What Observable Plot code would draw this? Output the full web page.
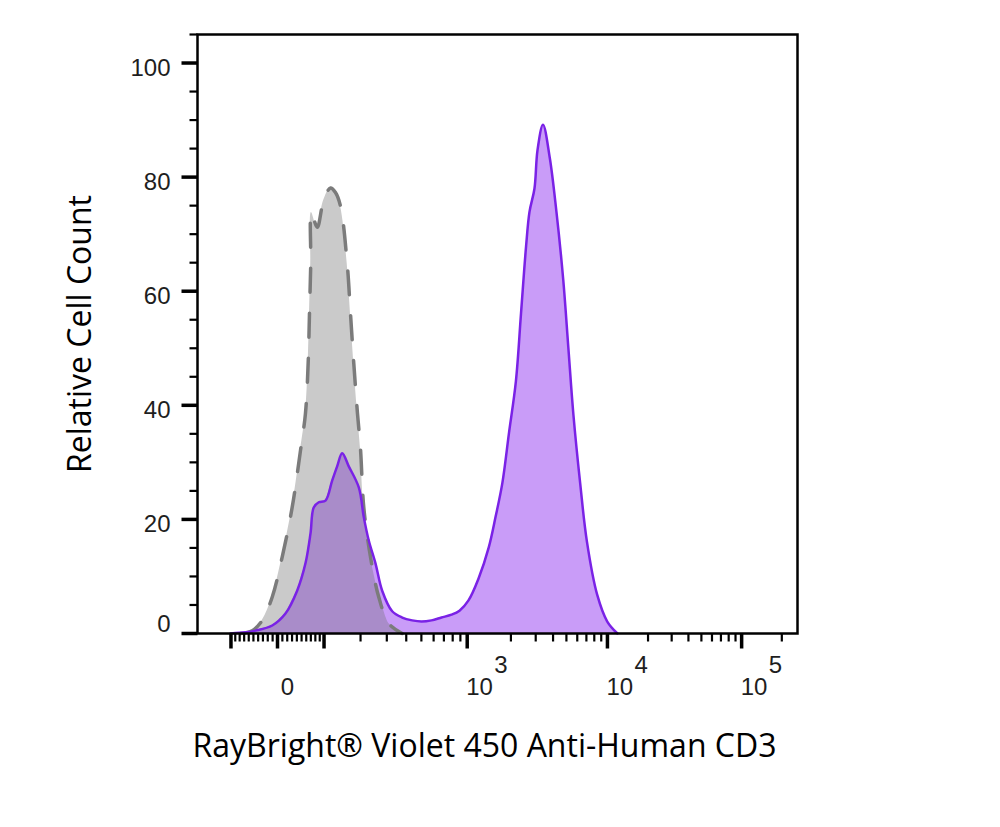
<!DOCTYPE html>
<html><head><meta charset="utf-8">
<script src="https://cdn.jsdelivr.net/npm/d3@7"></script>
<script src="https://cdn.jsdelivr.net/npm/@observablehq/plot@0.6"></script>
<style>body{margin:0;background:#fff}</style>
</head><body><div id="chart"></div>
<script>
// Isotype control (grey, dashed) — fluorescence intensity vs relative count
const isotypeX = [-78, -52.5, -31.5, -10.8, 9.6, 30.2, 47.7, 58.3, 64.1, 67.0, 69.8, 71.3, 84.2, 98.7, 115.6, 128.1, 141.2, 159.5, 169.0, 178.9, 190.2, 199.8, 210.7, 234.2, 265.8, 308.9, 376.8];
const isotypeY = [0, 0.5, 2.3, 6.4, 13.4, 22.1, 32.1, 38.6, 47.3, 56.1, 64.9, 73.8, 71.2, 75.8, 78.1, 77.3, 74.9, 64.9, 56.1, 47.3, 38.6, 32.4, 22.1, 13.4, 6.4, 1.75, 0];
// Anti-Human CD3 stained (purple)
const cd3X = [-101, -67, -45.5, -10.8, 16.4, 40.6, 58.3, 69.2, 76.4, 87.8, 103.5, 119.7, 132.4, 145.7, 164.1, 194.4, 210.7, 228.0, 252.9, 279.9, 325.0, 376.8, 436.6, 500.9, 581.2, 675.1, 785.5, 887.8, 1020, 1192, 1402, 1564, 1743, 1942, 2168, 2357, 2561, 2708, 2940, 3089, 3383, 3786, 4232, 4742, 5165, 5626, 6298, 7063, 8400, 9970, 11860];
const cd3Y = [0, 0.2, 0.5, 1.4, 3.5, 7.5, 12.3, 17.5, 22.1, 23.0, 23.3, 26.8, 29.3, 31.6, 29.3, 25.6, 20.4, 16.3, 12.3, 7.5, 3.9, 2.8, 2.3, 2.1, 2.3, 2.8, 3.3, 4.0, 5.8, 9.6, 15.1, 20.5, 26.4, 35.3, 44.2, 56.1, 67.9, 73.9, 78.0, 84.7, 89.2, 83.4, 73.9, 62.0, 50.1, 38.3, 26.4, 16.1, 6.8, 2.1, 0];

const xMajorTicks = [-100, 0, 100, 1000, 10000, 100000];
const xMinorTicks = [-90, -80, -70, -60, -50, -40, -30, -20, -10, 10, 20, 30, 40, 50, 60, 70, 80, 90,
  200, 300, 400, 500, 600, 700, 800, 900,
  2000, 3000, 4000, 5000, 6000, 7000, 8000, 9000,
  20000, 30000, 40000, 50000, 60000, 70000, 80000, 90000, 200000];
const xDecadeTicks = [1000, 10000, 100000];
const xDecadeBase = ["10", "10", "10"];
const xDecadeExponents = ["3", "4", "5"];
const xZeroLabel = ["0"];
const yMajorTicks = [0, 20, 40, 60, 80, 100];
const yMinorTicks = [5, 10, 15, 25, 30, 35, 45, 50, 55, 65, 70, 75, 85, 90, 95, 105];
const xTitle = "RayBright® Violet 450 Anti-Human CD3";
const yTitle = "Relative Cell Count";

// Logicle (biexponential) display transform, T=262144, M=4.5 decades
function makeLogicle(T, W, M, A) {
  const w = W / (M + A), x2 = A / (M + A), x1 = x2 + w, x0 = x2 + 2 * w, b = (M + A) * Math.LN10;
  let lo = 1e-9, hi = b;
  for (let i = 0; i < 200; i++) {
    const mid = (lo + hi) / 2;
    const f = 2 * (Math.log(mid) - Math.log(b)) + w * (b + mid);
    if (f > 0) hi = mid; else lo = mid;
  }
  const d = (lo + hi) / 2;
  const ca = Math.exp(x0 * (b + d));
  const mfa = Math.exp(b * x1) - ca / Math.exp(d * x1);
  const a = T / ((Math.exp(b) - mfa) - ca / Math.exp(d));
  const c = ca * a, f = -mfa * a;
  const S = y => y >= x1 ? a * Math.exp(b * y) - c * Math.exp(-d * y) + f : -S(2 * x1 - y);
  return x => {
    let l = -0.5, h = 1.5;
    for (let i = 0; i < 100; i++) { const m = (l + h) / 2; if (S(m) < x) l = m; else h = m; }
    return (l + h) / 2;
  };
}
const disp = makeLogicle(262144, 0.6, 4.5, 0);

const gray = isotypeX.map((x, i) => ({u: disp(x), v: isotypeY[i]}));
const cd3 = cd3X.map((x, i) => ({u: disp(x), v: cd3Y[i]}));

function interp(rows, u) {
  const n = rows.length;
  if (u < rows[0].u || u > rows[n - 1].u) return 0;
  if (u === rows[n - 1].u) return rows[n - 1].v;
  const i = d3.bisector(r => r.u).right(rows, u);
  const p = rows[i - 1], q = rows[i];
  return p.v + (q.v - p.v) * (u - p.u) / (q.u - p.u);
}
const us = Array.from(new Set([...gray.map(r => r.u), ...cd3.map(r => r.u)])).sort((a, b) => a - b);
const overlap = [];
for (let k = 0; k < us.length; k++) {
  const u = us[k], g = interp(gray, u), p = interp(cd3, u);
  if (k > 0) {
    const u0 = us[k - 1], g0 = interp(gray, u0), p0 = interp(cd3, u0);
    const e0 = g0 - p0, e1 = g - p;
    if (e0 * e1 < 0) { const t = e0 / (e0 - e1); overlap.push({u: u0 + t * (u - u0), v: g0 + t * (g - g0)}); }
  }
  overlap.push({u, v: Math.min(g, p)});
}

// layout
const W = 1000, H = 827, mL = 197, mR = 203, mT = 34, mB = 194;
const yDomain = [0, 105], xDomain = [0, 1];
const pxPerY = (H - mT - mB) / (yDomain[1] - yDomain[0]);
const pxPerX = (W - mL - mR) / (xDomain[1] - xDomain[0]);
const curve = "catmull-rom";

const tickFont = {fontSize: 24, fontFamily: "Liberation Sans, Arial, sans-serif", fill: "#1e1e1e"};
const titleFont = {fontSize: 32, fontFamily: "Open Sans, sans-serif", fill: "#000"};

const tickLink = (values, len, width, axis) => axis === "x"
  ? Plot.link(values, {x1: d => disp(d), x2: d => disp(d), y1: 0, y2: -len / pxPerY, stroke: "#000", strokeWidth: width})
  : Plot.link(values, {y1: d => d, y2: d => d, x1: 0, x2: -len / pxPerX, stroke: "#000", strokeWidth: width});

const chart = Plot.plot({
  width: W, height: H,
  marginLeft: mL, marginRight: mR, marginTop: mT, marginBottom: mB,
  x: {domain: xDomain, axis: null},
  y: {domain: yDomain, axis: null},
  style: {background: "#fff"},
  marks: [
    Plot.areaY(gray, {x: "u", y: "v", fill: "#cacaca", curve}),
    Plot.areaY(cd3, {x: "u", y: "v", fill: "#c99cf8", curve}),
    Plot.areaY(overlap, {x: "u", y: "v", fill: "#a98cc9", curve}),
    Plot.lineY(gray, {x: "u", y: "v", stroke: "#7b7b7b", strokeWidth: 3.5, strokeDasharray: "24,21", curve}),
    Plot.lineY(cd3, {x: "u", y: "v", stroke: "#7a22e6", strokeWidth: 2.5, curve}),
    tickLink(xMinorTicks, 8, 2.2, "x"),
    tickLink(xMajorTicks, 15, 3.5, "x"),
    tickLink(yMinorTicks, 8, 2.2, "y"),
    tickLink(yMajorTicks, 16, 3.5, "y"),
    Plot.frame({stroke: "#000", strokeWidth: 2.5}),
    Plot.text(yMajorTicks.filter(d => d > 0), {y: d => d, frameAnchor: "left", dx: -27, dy: 5, textAnchor: "end", text: d => String(d), ...tickFont}),
    Plot.text(yMajorTicks.filter(d => d === 0), {y: d => d, frameAnchor: "left", dx: -27, dy: -9, textAnchor: "end", text: d => String(d), ...tickFont}),
    Plot.text(xZeroLabel, {x: () => disp(0), frameAnchor: "bottom", dy: 61, dx: 10, textAnchor: "middle", text: d => d, ...tickFont}),
    Plot.text(xDecadeTicks, {x: d => disp(d), frameAnchor: "bottom", dy: 61, dx: -1, textAnchor: "start", text: (d, i) => xDecadeBase[i], ...tickFont}),
    Plot.text(xDecadeTicks, {x: d => disp(d), frameAnchor: "bottom", dy: 39, dx: 27, textAnchor: "start", text: (d, i) => xDecadeExponents[i], ...tickFont}),
    Plot.text([xTitle], {frameAnchor: "bottom", dy: 123, dx: -13, textAnchor: "middle", text: d => d, ...titleFont}),
    Plot.text([yTitle], {frameAnchor: "left", dx: -117, rotate: -90, textAnchor: "middle", text: d => d, ...titleFont})
  ]
});
document.getElementById("chart").appendChild(chart);
</script>
</body></html>
